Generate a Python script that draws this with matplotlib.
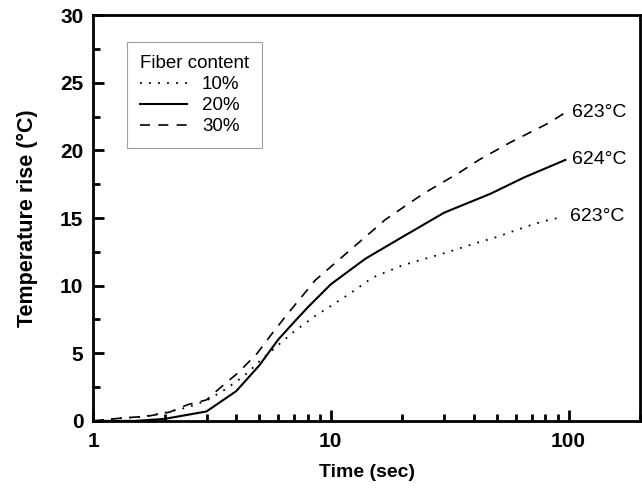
import matplotlib
matplotlib.use("Agg")
import matplotlib.pyplot as plt
from matplotlib.ticker import MultipleLocator, FixedLocator, LogLocator, NullFormatter

plt.rcParams['font.family'] = ['Liberation Sans', 'DejaVu Sans']

t10 = [1, 1.3, 1.6, 2.0, 2.5, 3.0, 3.5, 4.0, 4.5, 5.0, 6.0, 7.0, 8.5, 10, 12, 15, 20, 25, 30, 40, 50, 60, 70, 80, 95]
y10 = [0, 0.2, 0.3, 0.6, 1.0, 1.5, 2.2, 2.9, 3.6, 4.4, 5.6, 6.6, 7.7, 8.5, 9.4, 10.6, 11.5, 12.0, 12.4, 13.1, 13.6, 14.1, 14.5, 14.8, 15.1]

t20 = [1, 1.5, 2.0, 3.0, 4.0, 5.0, 6.0, 7.0, 8.0, 10, 14, 20, 30, 47, 65, 97]
y20 = [0, 0, 0.15, 0.7, 2.2, 4.1, 6.0, 7.3, 8.4, 10.1, 12.0, 13.6, 15.4, 16.8, 18.0, 19.3]

t30 = [1, 1.3, 1.7, 2.1, 2.5, 3.0, 3.4, 4.1, 4.9, 5.6, 6.5, 8.6, 12, 17, 24.5, 35, 42, 57, 82, 97]
y30 = [0, 0.2, 0.35, 0.65, 1.2, 1.55, 2.4, 3.6, 5.0, 6.35, 7.8, 10.4, 12.6, 14.9, 16.8, 18.4, 19.3, 20.6, 22.0, 22.8]

series_labels = ["10%", "20%", "30%"]
end_labels = ["623°C", "624°C", "623°C"]

fig = plt.figure(figsize=(6.42, 4.90), dpi=100)
ax = fig.add_axes([0.145, 0.141, 0.852, 0.828])

styles = [(0, (1, 4)), '-', (0, (6, 5))]
widths = [1.3, 1.5, 1.2]
data = [(t10, y10), (t20, y20), (t30, y30)]
for (t, y), ls, lw, lab, el in zip(data, styles, widths, series_labels, end_labels):
    ax.plot(t, y, color='black', linestyle=ls, linewidth=lw, label=lab)
    ax.text(t[-1] * 1.07, y[-1], el, fontsize=14, va='center', ha='left')

ax.set_xscale('log')
ax.set_xlim(1, 200)
ax.set_ylim(0, 30)
ax.yaxis.set_major_locator(MultipleLocator(5))
ax.yaxis.set_minor_locator(MultipleLocator(2.5))
ax.xaxis.set_major_locator(FixedLocator([1, 10, 100]))
ax.xaxis.set_minor_locator(LogLocator(base=10, subs=range(2, 10)))
ax.xaxis.set_minor_formatter(NullFormatter())
ax.set_xticklabels(['1', '10', '100'])

for s in ax.spines.values():
    s.set_linewidth(2.0)
ax.tick_params(which='both', direction='in', top=False, right=False, width=2)
ax.tick_params(which='major', length=8, labelsize=15)
ax.tick_params(axis='y', which='major', pad=7)
ax.tick_params(axis='x', which='major', pad=8)
ax.tick_params(which='minor', length=5)
for lbl in ax.get_xticklabels() + ax.get_yticklabels():
    lbl.set_fontweight('bold')

ax.set_xlabel('Time (sec)', fontsize=14, fontweight='bold', labelpad=9)
ax.set_ylabel('Temperature rise (°C)', fontsize=15.5, fontweight='bold', labelpad=16)

leg = ax.legend(loc='upper left', bbox_to_anchor=(0.062, 0.933), borderaxespad=0,
                title='Fiber content',
                fontsize=13.5, title_fontsize=13.5, frameon=True, fancybox=False,
                edgecolor='#888888', handlelength=2.5, handletextpad=0.8,
                labelspacing=0.2, borderpad=0.7, alignment='left')
leg.get_frame().set_linewidth(0.8)

fig.savefig('out.png', dpi=100)
